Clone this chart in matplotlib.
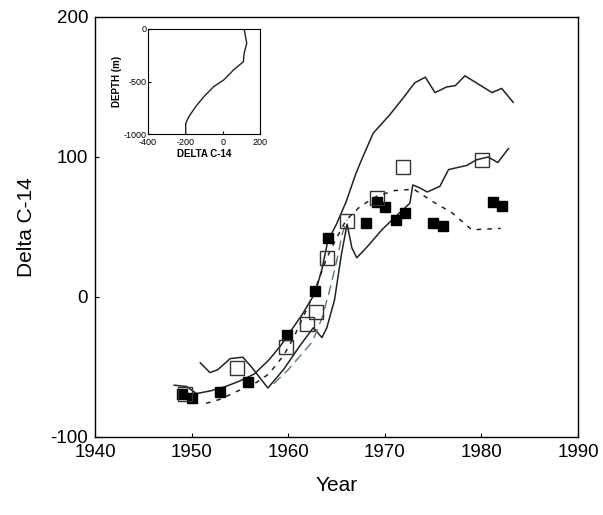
import numpy as np
import matplotlib
matplotlib.use("Agg")
import matplotlib.pyplot as plt

plt.rcParams['font.family'] = ['Liberation Sans', 'DejaVu Sans']
plt.rcParams['axes.unicode_minus'] = False

# measured points
filled_year = [1949.0, 1950.0, 1952.9, 1955.8, 1959.9, 1962.8, 1964.1, 1968.1,
               1969.2, 1970.0, 1971.2, 1972.1, 1975.0, 1976.0, 1981.2, 1982.1]
filled_d14 = [-69, -72, -68, -61, -27, 4, 42, 53, 68, 64, 55, 60, 53, 51, 68, 65]

open_year = [1949.3, 1954.7, 1959.8, 1961.9, 1962.9, 1964.0, 1966.1, 1969.2, 1971.9, 1980.1]
open_d14 = [-69, -51, -36, -19, -11, 28, 54, 71, 93, 98]

# model curves
a_year = [1948.2, 1949.5, 1950.5, 1952, 1953.5, 1955, 1956.5, 1958, 1959.2, 1960, 1961.5,
          1962.8, 1963.5, 1964.1, 1965, 1966, 1967, 1967.6, 1968.8, 1970.5, 1972, 1973.1,
          1974.2, 1975.2, 1976.4, 1977.3, 1978.3, 1981.1, 1982.1, 1983.3]
a_d14 = [-63, -64, -69, -67, -64, -60, -55, -45, -35, -27, -12, 3, 20, 40, 52, 68, 88, 98,
         117, 130, 143, 153, 157, 146, 150, 151, 158, 146, 149, 139]

b_year = [1950.9, 1951.9, 1952.7, 1954, 1955.3, 1956.2, 1957.9, 1959.5, 1961.3, 1962.6,
          1963.5, 1964, 1964.8, 1965.5, 1966.1, 1966.6, 1967.1, 1968.2, 1969.7, 1971.2,
          1972.6, 1972.9, 1973.6, 1974.4, 1975.7, 1976.6, 1978.5, 1979.5, 1980.7, 1981.7, 1982.8]
b_d14 = [-47, -54, -52, -44, -43, -50, -65, -52, -34, -22, -29, -22, -2, 30, 52, 35, 28, 36,
         48, 58, 67, 80, 78, 75, 79, 91, 94, 98, 100, 96, 106]

d_year = [1951.5, 1953, 1954.5, 1956.5, 1958, 1959.5, 1960.5, 1961.5, 1962.5, 1963.3, 1964,
          1965, 1966, 1967.5, 1969.2, 1971, 1973, 1975, 1977, 1979, 1982]
d_d14 = [-76, -73, -68, -62, -55, -42, -30, -15, 0, 15, 28, 42, 55, 65, 72, 76, 77, 68, 60, 48, 49]

e_year = [1958.5, 1960, 1961.5, 1962.5, 1963.5, 1964.3, 1965, 1965.6, 1966.1]
e_d14 = [-62, -52, -40, -32, -15, 5, 25, 45, 55]

# inset depth profile
prof_d14 = [115, 129, 115, 111, 58, 41, 5, -48, -101, -145, -181, -198, -198]
prof_depth = [0, -136, -232, -311, -390, -422, -486, -549, -645, -740, -835, -898, -1000]

fig = plt.figure(figsize=(6.03, 5.15), dpi=100)
ax = fig.add_axes([0.1575, 0.1515, 0.801, 0.8155])

ax.plot(a_year, a_d14, color='#222222', lw=1.1)
ax.plot(b_year, b_d14, color='#222222', lw=1.1)
ax.plot(d_year, d_d14, color='#222222', lw=1.1, dashes=(3, 4))
ax.plot(e_year, e_d14, color='#557a70', lw=1.0, dashes=(7, 4))
ax.plot(filled_year, filled_d14, 's', color='black', ms=6.5)
ax.plot(open_year, open_d14, 's', mfc='none', mec='#333333', mew=1.0, ms=10)

ax.set_xlim(1940, 1990)
ax.set_ylim(-100, 200)
ax.set_xticks([1940, 1950, 1960, 1970, 1980, 1990])
ax.set_yticks([-100, 0, 100, 200])
ax.tick_params(direction='in', length=3, labelsize=13.5)
ax.tick_params(axis='x', pad=5)
ax.tick_params(axis='y', pad=5)
ax.set_xlabel('Year', fontsize=15, labelpad=11)
ax.set_ylabel('Delta C-14', fontsize=15, labelpad=10)
for s in ax.spines.values():
    s.set_linewidth(1.0)

ins = fig.add_axes([148 / 603, 1 - 134 / 515, 112 / 603, 105 / 515])
ins.plot(prof_d14, prof_depth, color='#222222', lw=1.0)
ins.set_xlim(-400, 200)
ins.set_ylim(-1000, 0)
ins.set_xticks([-400, -200, 0, 200])
ins.set_yticks([-1000, -500, 0])
ins.tick_params(direction='in', length=2, labelsize=6.5, pad=1)
ins.tick_params(axis='x', pad=3)
ins.set_xlabel('DELTA C-14', fontsize=7, fontweight='bold', labelpad=1)
ins.set_ylabel('DEPTH (m)', fontsize=7, fontweight='bold', labelpad=1)
for s in ins.spines.values():
    s.set_linewidth(0.8)

fig.savefig('out.png', dpi=100)
